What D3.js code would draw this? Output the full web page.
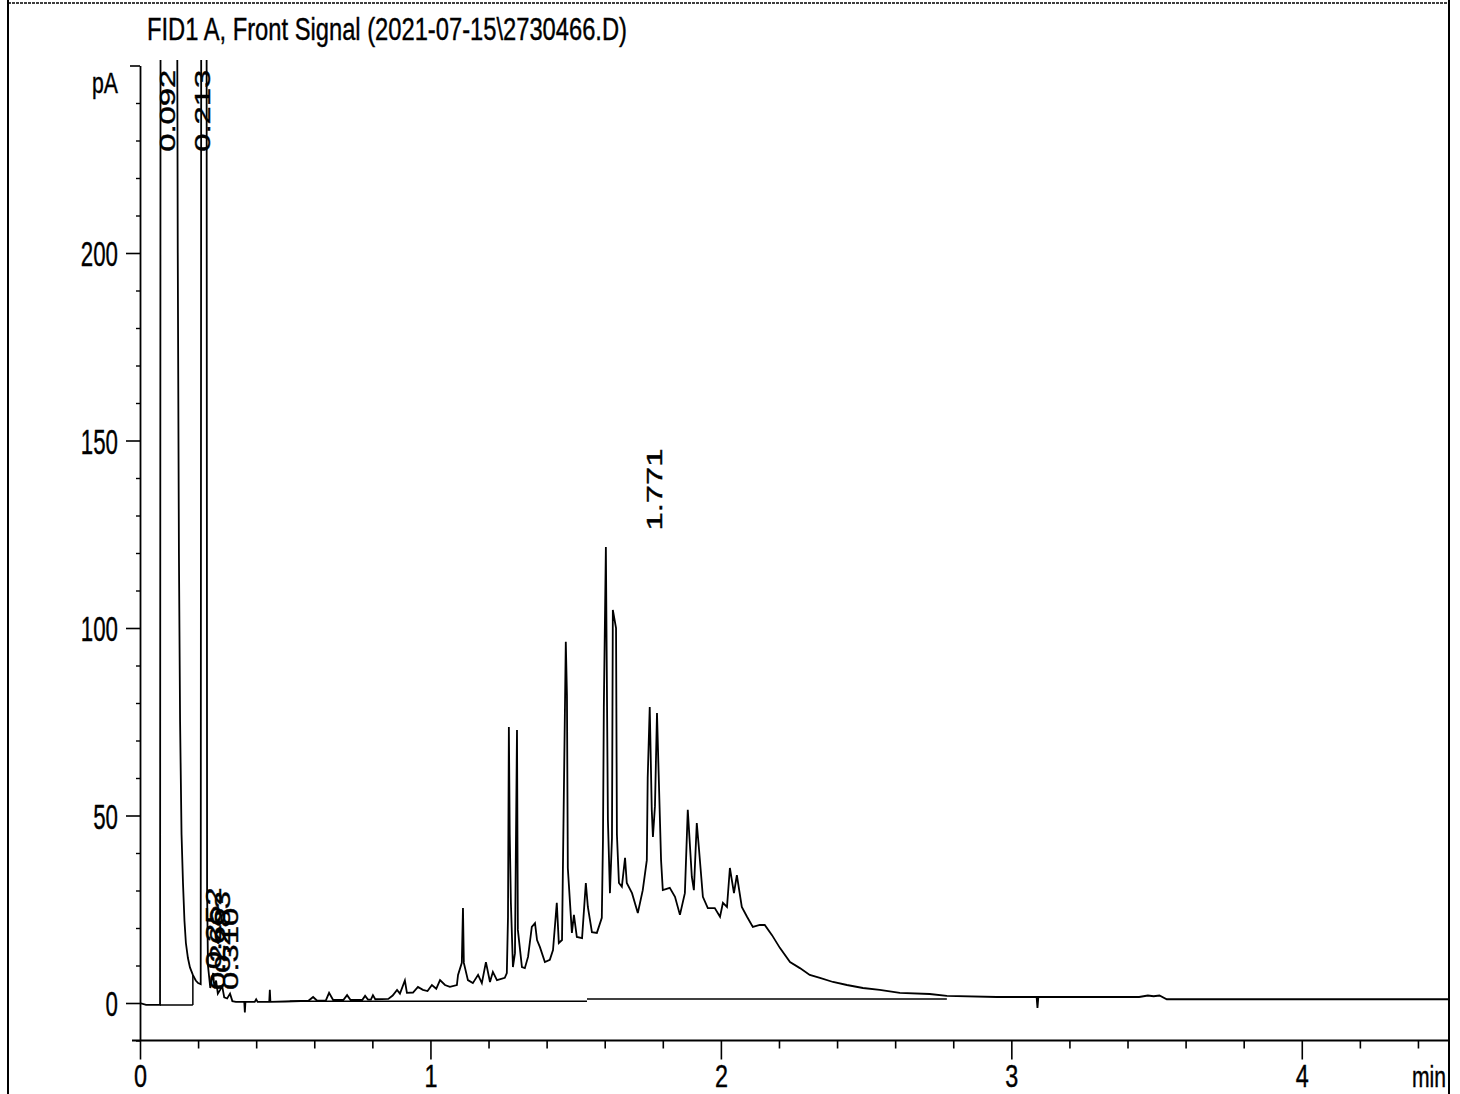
<!DOCTYPE html>
<html>
<head>
<meta charset="utf-8">
<script src="https://cdn.jsdelivr.net/npm/d3@7"></script>
<style>
  body { margin: 0; background: #fff; }
  text { stroke: #000; stroke-width: 0.4px; }
</style>
</head>
<body>
<div id="chart"></div>
<script>
// signal (min, pA); peaks that leave the plot top are clipped
const signalTime = [
  0.000, 0.021, 0.069, 0.071, 0.127, 0.130, 0.134, 0.138, 0.143, 0.148, 0.153, 0.158, 0.165, 0.172, 0.182, 0.192, 0.200, 0.209,
  0.211, 0.229, 0.231, 0.234, 0.238, 0.242, 0.248, 0.252, 0.256, 0.262, 0.268, 0.276, 0.283, 0.290, 0.300, 0.310, 0.318, 0.330,
  0.359, 0.361, 0.363, 0.395, 0.400, 0.405, 0.445, 0.447, 0.449, 0.500, 0.580, 0.596, 0.610, 0.640, 0.651, 0.665, 0.700, 0.713,
  0.725, 0.765, 0.775, 0.785, 0.795, 0.802, 0.810, 0.855, 0.870, 0.885, 0.895, 0.912, 0.919, 0.940, 0.957, 0.974, 0.990, 1.005,
  1.020, 1.033, 1.050, 1.067, 1.091, 1.095, 1.108, 1.112, 1.115, 1.129, 1.146, 1.164, 1.177, 1.191, 1.205, 1.215, 1.229, 1.256,
  1.263, 1.267, 1.270, 1.273, 1.277, 1.284, 1.291, 1.294, 1.298, 1.301, 1.315, 1.325, 1.336, 1.349, 1.360, 1.367, 1.377, 1.394,
  1.411, 1.422, 1.435, 1.442, 1.453, 1.456, 1.466, 1.470, 1.473, 1.487, 1.494, 1.504, 1.522, 1.535, 1.542, 1.556, 1.573, 1.590,
  1.594, 1.597, 1.604, 1.611, 1.618, 1.625, 1.628, 1.639, 1.642, 1.649, 1.659, 1.670, 1.676, 1.694, 1.714, 1.731, 1.745, 1.748,
  1.755, 1.762, 1.766, 1.773, 1.780, 1.787, 1.794, 1.800, 1.824, 1.842, 1.859, 1.876, 1.886, 1.900, 1.907, 1.917, 1.924, 1.938,
  1.955, 1.979, 1.997, 2.007, 2.021, 2.031, 2.045, 2.055, 2.072, 2.090, 2.110, 2.134, 2.151, 2.176, 2.203, 2.238, 2.272, 2.306,
  2.341, 2.386, 2.434, 2.489, 2.547, 2.616, 2.719, 2.778, 2.950, 3.087, 3.090, 3.093, 3.440, 3.470, 3.490, 3.510, 3.535, 4.510
];
const signalPA = [
  0.0, -0.5, -0.5, 300, 300, 200, 120, 75, 45, 32, 22, 16, 12, 9.5, 7.5, 6.0, 5.3, 5.0,
  300, 300, 30, 10, 7, 4, 6.5, 8, 4, 6, 2.5, 3.5, 4.5, 1.5, 1.2, 2.5, 0.5, 0.3,
  0.3, -2.5, 0.3, 0.3, 1.0, 0.3, 0.3, 3.5, 0.3, 0.4, 0.6, 1.6, 0.6, 0.7, 2.7, 0.8, 0.8, 2.1,
  0.8, 0.8, 1.9, 0.9, 0.9, 2.1, 1.0, 1.1, 2.0, 3.5, 2.5, 6.0, 2.7, 2.8, 4.3, 3.5, 3.2, 4.8,
  3.8, 6.1, 4.8, 4.3, 4.8, 7.5, 10.7, 25.3, 10.7, 6.1, 5.3, 7.5, 5.3, 10.9, 5.6, 8.3, 6.1, 6.7,
  8.0, 22.9, 73.6, 45, 26.7, 9.6, 13.3, 40, 72.8, 19.5, 9.6, 9.3, 12.3, 20.3, 21.3, 16.8, 14.9, 10.9,
  11.5, 14.1, 26.7, 16.0, 16.8, 35.5, 96.3, 82, 36, 18.7, 23.5, 17.6, 17.3, 32.0, 25.6, 18.9, 18.7, 22.7,
  43.5, 79, 121.6, 48.8, 29.3, 44, 104.8, 100, 45, 32, 31, 38.7, 32, 29.3, 24, 30.1, 38.1, 60,
  78.9, 51.5, 44.3, 52.5, 77.3, 57.6, 38.1, 30.1, 30.7, 28.3, 23.5, 29.3, 51.5, 33.6, 30.1, 48, 41.6, 28.3,
  25.3, 25.3, 23, 26.7, 25.6, 36, 29.3, 34.1, 25.6, 23, 20.3, 20.8, 20.8, 18.1, 14.7, 10.9, 9.3, 7.5,
  6.7, 5.6, 4.8, 4.0, 3.5, 2.7, 2.4, 1.9, 1.6, 1.6, -1.3, 1.6, 1.6, 2.0, 1.8, 2.0, 1.0, 1.0
];

// integration baseline segments [start, end]
const baseSegTime = [[0.069, 0.182], [0.182, 0.182], [0.516, 1.539], [1.539, 2.778]];
const baseSegPA = [[-0.5, -0.5], [-0.5, 7.5], [0.5, 0.5], [1.1, 1.1]];

// retention time labels
const peakLabels = ["0.092", "0.213", "0.252", "0.266", "0.283", "0.310", "1.771"];
const peakLabelTime = [0.092, 0.213, 0.252, 0.266, 0.283, 0.310, 1.771];
const peakLabelPA = [227, 227, 9, 3.5, 8, 3.5, 126];

const xMajor = [0, 1, 2, 3, 4];
const xMajorLabels = ["0", "1", "2", "3", "4"];
const yMajor = [0, 50, 100, 150, 200, 250];
const yMajorLabels = ["0", "50", "100", "150", "200", ""];

const titleText = "FID1 A, Front Signal (2021-07-15\\2730466.D)";

const FONT = "'Liberation Sans Narrow', 'Liberation Sans', Arial, sans-serif";
const width = 1460, height = 1094;

const svg = d3.select("#chart").append("svg")
  .attr("width", width)
  .attr("height", height)
  .style("font-family", FONT);

const x = d3.scaleLinear().domain([0, 4.5]).range([140, 1447]);
const y = d3.scaleLinear().domain([-10, 250]).range([1040.5, 65.5]);

// page frame
svg.append("line").attr("x1", 8).attr("x2", 8).attr("y1", 0).attr("y2", height)
  .attr("stroke", "#000").attr("stroke-width", 2);
svg.append("line").attr("x1", 8).attr("x2", 1450).attr("y1", 3).attr("y2", 3)
  .attr("stroke", "#000").attr("stroke-width", 1.5).attr("stroke-dasharray", "3,1");

// title
svg.append("text")
  .attr("x", 147).attr("y", 40)
  .attr("font-size", 31)
  .attr("textLength", 480)
  .attr("lengthAdjust", "spacingAndGlyphs")
  .text(titleText);

// x axis: minor then major ticks
const xMinor = d3.range(0.2, 4.5, 0.2).filter(v => Math.abs(v - Math.round(v)) > 0.01);
svg.append("g")
  .attr("transform", `translate(0,${y(-10)})`)
  .call(d3.axisBottom(x).tickValues(xMinor).tickSize(8).tickFormat(""))
  .call(g => g.select(".domain").remove())
  .call(g => g.selectAll("line").attr("stroke-width", 1.6));

const xAxis = svg.append("g")
  .attr("transform", `translate(0,${y(-10)})`)
  .call(d3.axisBottom(x).tickValues(xMajor).tickSize(19).tickPadding(5)
    .tickFormat((d, i) => xMajorLabels[i]))
  .call(g => g.select(".domain").remove())
  .call(g => g.selectAll("line").attr("stroke-width", 1.6));
xAxis.selectAll("text")
  .attr("font-size", 31)
  .attr("font-family", FONT)
  .attr("fill", "#000")
  .attr("textLength", d => String(xMajorLabels[xMajor.indexOf(d)]).length * 13)
  .attr("lengthAdjust", "spacingAndGlyphs");

svg.append("line")
  .attr("x1", x(0) - 8).attr("x2", 1450)
  .attr("y1", y(-10)).attr("y2", y(-10))
  .attr("stroke", "#000").attr("stroke-width", 1.8);

svg.append("text")
  .attr("x", 1412).attr("y", 1087)
  .attr("font-size", 29)
  .attr("textLength", 34)
  .attr("lengthAdjust", "spacingAndGlyphs")
  .text("min");

// y axis: minor then major ticks
const yMinor = d3.range(-10, 251, 10).filter(v => v % 50 !== 0);
svg.append("g")
  .attr("transform", `translate(${x(0)},0)`)
  .call(d3.axisLeft(y).tickValues(yMinor).tickSize(4).tickFormat(""))
  .call(g => g.select(".domain").remove())
  .call(g => g.selectAll("line").attr("stroke-width", 1.4));

const yAxis = svg.append("g")
  .attr("transform", `translate(${x(0)},0)`)
  .call(d3.axisLeft(y).tickValues(yMajor).tickSize(14).tickSizeOuter(0).tickPadding(8)
    .tickFormat((d, i) => yMajorLabels[i]))
  .call(g => g.selectAll("line").attr("stroke-width", 1.6))
  .call(g => g.select(".domain").attr("stroke-width", 1.8));
yAxis.selectAll(".tick").filter(d => d === 250).select("line").attr("x2", -10);
yAxis.selectAll("text")
  .attr("font-size", 35)
  .attr("font-family", FONT)
  .attr("fill", "#000")
  .attr("dy", "0.37em")
  .attr("textLength", d => Math.max(1, String(yMajorLabels[yMajor.indexOf(d)]).length) * 12.4)
  .attr("lengthAdjust", "spacingAndGlyphs");

svg.append("text")
  .attr("x", 118).attr("y", 93)
  .attr("text-anchor", "end")
  .attr("font-size", 30)
  .attr("textLength", 26)
  .attr("lengthAdjust", "spacingAndGlyphs")
  .text("pA");

// plot clip
svg.append("clipPath").attr("id", "plot-clip")
  .append("rect")
  .attr("x", x(0)).attr("y", 60)
  .attr("width", 1450 - x(0)).attr("height", y(-10) - 60);

const plot = svg.append("g").attr("clip-path", "url(#plot-clip)");

// integration baseline
const segLine = d3.line().x(d => x(d[0])).y(d => y(d[1]));
plot.selectAll("path.base")
  .data(baseSegTime.map((ts, i) => ts.map((t, j) => [t, baseSegPA[i][j]])))
  .join("path")
  .attr("class", "base")
  .attr("d", segLine)
  .attr("fill", "none")
  .attr("stroke", "#000")
  .attr("stroke-width", 1.5);

// signal trace
const signal = signalTime.map((t, i) => [t, signalPA[i]]);
plot.append("path")
  .datum(signal)
  .attr("d", d3.line().x(d => x(d[0])).y(d => y(d[1])))
  .attr("fill", "none")
  .attr("stroke", "#000")
  .attr("stroke-width", 1.8)
  .attr("stroke-linejoin", "miter");

// retention time labels, rotated
svg.selectAll("text.rt")
  .data(peakLabels)
  .join("text")
  .attr("class", "rt")
  .attr("transform", (d, i) => `translate(${x(peakLabelTime[i])},${y(peakLabelPA[i])}) rotate(-90)`)
  .attr("dy", "0.36em")
  .attr("font-size", 22)
  .attr("textLength", 82)
  .attr("lengthAdjust", "spacingAndGlyphs")
  .text(d => d);

// right edge of the frame
svg.append("line").attr("x1", 1449).attr("x2", 1449).attr("y1", 0).attr("y2", height)
  .attr("stroke", "#000").attr("stroke-width", 2);
</script>
</body>
</html>
